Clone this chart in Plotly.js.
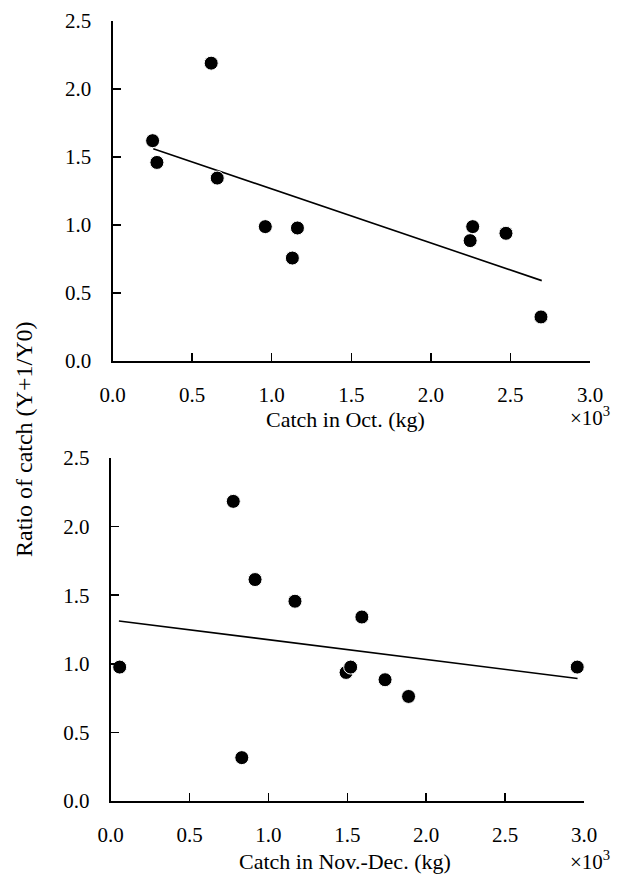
<!DOCTYPE html>
<html>
<head>
<meta charset="utf-8">
<script src="https://cdn.plot.ly/plotly-3.0.1.min.js"></script>
<style>html,body{margin:0;padding:0;background:#fff;}#chart{width:619px;height:879px;}</style>
</head>
<body>
<div id="chart"></div>
<script>
// Top panel: catch in October (x10^3 kg) vs ratio of catch
const octCatch = [0.252, 0.279, 0.620, 0.658, 0.960, 1.162, 1.130, 2.263, 2.247, 2.472, 2.692];
const octRatio = [1.62, 1.46, 2.19, 1.345, 0.988, 0.978, 0.757, 0.988, 0.885, 0.939, 0.324];
const octFitX = [0.256, 2.697];
const octFitY = [1.561, 0.591];

// Bottom panel: catch in Nov.-Dec. (x10^3 kg) vs ratio of catch
const novCatch = [0.057, 0.777, 0.915, 1.168, 1.592, 1.492, 1.521, 1.739, 1.888, 0.831, 2.957];
const novRatio = [0.976, 2.184, 1.614, 1.456, 1.341, 0.937, 0.976, 0.884, 0.762, 0.316, 0.976];
const novFitX = [0.052, 2.959];
const novFitY = [1.312, 0.893];

const tickVals = [0, 0.5, 1.0, 1.5, 2.0, 2.5, 3.0];
const yTickVals = [0, 0.5, 1.0, 1.5, 2.0, 2.5];

const FONT = 'Liberation Serif';
const marker = {color: '#000', size: 14, line: {color: '#fff', width: 1}};
const fitLine = {color: '#000', width: 1.6};

const traces = [
  {x: octFitX, y: octFitY, mode: 'lines', line: fitLine, xaxis: 'x', yaxis: 'y', hoverinfo: 'skip'},
  {x: octCatch, y: octRatio, mode: 'markers', marker: marker, xaxis: 'x', yaxis: 'y', cliponaxis: false},
  {x: novFitX, y: novFitY, mode: 'lines', line: fitLine, xaxis: 'x2', yaxis: 'y2', hoverinfo: 'skip'},
  {x: novCatch, y: novRatio, mode: 'markers', marker: marker, xaxis: 'x2', yaxis: 'y2', cliponaxis: false}
];

function xAxis(domain, anchor) {
  return {
    domain: domain, anchor: anchor, range: [0, 3.0], tickvals: tickVals, tickformat: '.1f',
    ticks: 'inside', ticklen: 8, tickwidth: 1.5, tickcolor: '#000',
    showline: true, linecolor: '#000', linewidth: 2, showgrid: false, zeroline: false,
    tickfont: {family: FONT, size: 21, color: '#000'}, ticklabelstandoff: 14
  };
}
function yAxis(domain, anchor) {
  return {
    domain: domain, anchor: anchor, range: [0, 2.5], tickvals: yTickVals, tickformat: '.1f',
    ticks: 'inside', ticklen: 8, tickwidth: 1.5, tickcolor: '#000',
    showline: true, linecolor: '#000', linewidth: 2, showgrid: false, zeroline: false,
    tickfont: {family: FONT, size: 21, color: '#000'}, ticklabelstandoff: 15
  };
}

const W = 619, H = 879;
const layout = {
  width: W, height: H, margin: {l: 0, r: 0, t: 0, b: 0},
  paper_bgcolor: '#fff', plot_bgcolor: '#fff', showlegend: false,
  xaxis: xAxis([112.5 / W, 590 / W], 'y'),
  yaxis: yAxis([1 - 361 / H, 1 - 21 / H], 'x'),
  xaxis2: xAxis([110.7 / W, 584 / W], 'y2'),
  yaxis2: yAxis([1 - 801 / H, 1 - 458 / H], 'x2'),
  annotations: [
    {text: 'Catch in Oct. (kg)', xref: 'paper', yref: 'paper', x: 345 / W, y: 1 - 419 / H,
     showarrow: false, font: {family: FONT, size: 22, color: '#000'}, xanchor: 'center', yanchor: 'middle'},
    {text: '×10<sup>3</sup>', xref: 'paper', yref: 'paper', x: 590 / W, y: 1 - 416 / H,
     showarrow: false, font: {family: FONT, size: 21, color: '#000'}, xanchor: 'center', yanchor: 'middle'},
    {text: 'Catch in Nov.-Dec. (kg)', xref: 'paper', yref: 'paper', x: 345 / W, y: 1 - 861 / H,
     showarrow: false, font: {family: FONT, size: 22, color: '#000'}, xanchor: 'center', yanchor: 'middle'},
    {text: '×10<sup>3</sup>', xref: 'paper', yref: 'paper', x: 590 / W, y: 1 - 860 / H,
     showarrow: false, font: {family: FONT, size: 21, color: '#000'}, xanchor: 'center', yanchor: 'middle'},
    {text: 'Ratio of catch (Y+1/Y0)', xref: 'paper', yref: 'paper', x: 24 / W, y: 1 - 440 / H,
     showarrow: false, textangle: -90, font: {family: FONT, size: 24, color: '#000'}, xanchor: 'center', yanchor: 'middle'}
  ]
};

Plotly.newPlot('chart', traces, layout, {staticPlot: true, displayModeBar: false});
</script>
</body>
</html>
